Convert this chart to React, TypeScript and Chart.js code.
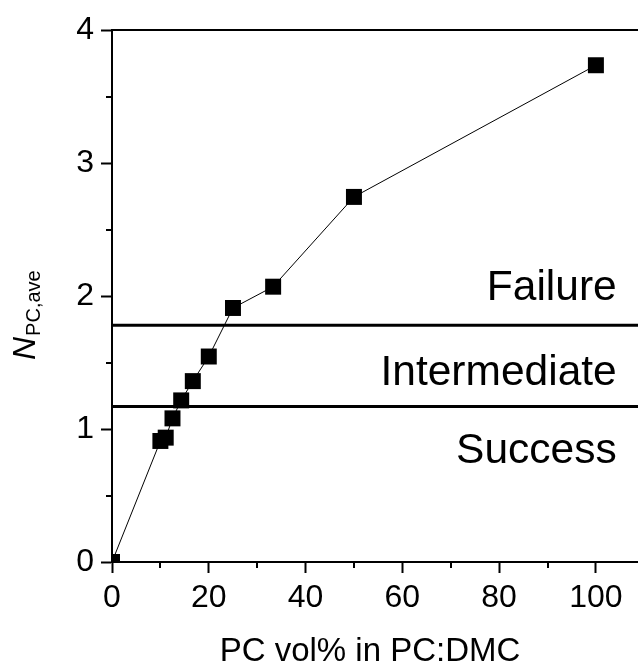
import React, { useEffect, useRef } from "react";
import { Chart, registerables } from "chart.js";

Chart.register(...registerables);

// ---- data ----
const pcVolPercent = [0, 10, 11.1, 12.5, 14.3, 16.7, 20, 25, 33.3, 50, 100];
const nPcAve = [0, 0.91, 0.935, 1.08, 1.215, 1.36, 1.545, 1.91, 2.07, 2.745, 3.735];

const thresholdValues = [1.17, 1.78];
const xMin = 0;
const xMax = 108.7;
const yMin = 0;
const yMax = 4;

const xMajorStep = 20;
const yMajorStep = 1;
const xMinorTicks = [10, 30, 50, 70, 90];
const yMinorTicks = [0.5, 1.5, 2.5, 3.5];

const zoneLabels = ["Failure", "Intermediate", "Success"];
const zoneLabelY = [1.97, 1.33, 0.745];
const zoneLabelX = 104.3;

const xTitle = "PC vol% in PC:DMC";
const yTitleMain = "N";
const yTitleSub = "PC,ave";

const FONT = '"Liberation Sans", Arial, Helvetica, sans-serif';

const decorPlugin = {
  id: "decor",
  afterDraw(chart: any) {
    const { ctx, chartArea } = chart;
    const xs = chart.scales.x;
    const ys = chart.scales.y;
    ctx.save();
    ctx.strokeStyle = "#000";
    ctx.fillStyle = "#000";
    ctx.lineWidth = 2;
    // top frame line
    ctx.beginPath();
    ctx.moveTo(chartArea.left - 1, chartArea.top);
    ctx.lineTo(chartArea.right, chartArea.top);
    ctx.stroke();
    // minor ticks
    ctx.beginPath();
    xMinorTicks.forEach((v) => {
      const px = Math.round(xs.getPixelForValue(v));
      ctx.moveTo(px, chartArea.bottom);
      ctx.lineTo(px, chartArea.bottom + 6);
    });
    yMinorTicks.forEach((v) => {
      const py = Math.round(ys.getPixelForValue(v));
      ctx.moveTo(chartArea.left, py);
      ctx.lineTo(chartArea.left - 6, py);
    });
    ctx.stroke();

    // zone labels
    ctx.font = `42.5px ${FONT}`;
    ctx.textAlign = "right";
    ctx.textBaseline = "alphabetic";
    zoneLabels.forEach((t, i) => {
      ctx.fillText(t, xs.getPixelForValue(zoneLabelX), ys.getPixelForValue(zoneLabelY[i]));
    });

    // x title
    ctx.font = `33px ${FONT}`;
    ctx.textAlign = "center";
    ctx.fillText(xTitle, (chartArea.left + chartArea.right) / 2 - 5, chartArea.bottom + 99);

    // y title (rotated)
    ctx.translate(chartArea.left - 77, chartArea.bottom - 202);
    ctx.rotate(-Math.PI / 2);
    ctx.textAlign = "left";
    ctx.font = `italic 32px ${FONT}`;
    ctx.fillText(yTitleMain, 0, 0);
    const w = ctx.measureText(yTitleMain).width;
    ctx.font = `20px ${FONT}`;
    ctx.fillText(yTitleSub, w + 1, 5);
    ctx.restore();
  },
};

export default function App() {
  const ref = useRef<HTMLCanvasElement>(null);

  useEffect(() => {
    if (!ref.current) return;
    const mainData = pcVolPercent.map((x, i) => ({ x, y: nPcAve[i] }));
    const thresholdSets = thresholdValues.map((v) => ({
      type: "line" as const,
      data: [
        { x: xMin, y: v },
        { x: xMax, y: v },
      ],
      borderColor: "#000",
      borderWidth: 3,
      pointRadius: 0,
      fill: false,
      clip: 0,
    }));
    const chart = new Chart(ref.current, {
      type: "line",
      data: {
        datasets: [
          ...thresholdSets,
          {
            data: mainData,
            borderColor: "#000",
            borderWidth: 1,
            backgroundColor: "#000",
            pointStyle: "rect",
            pointRadius: 11.3,
            pointBorderWidth: 0,
            pointBackgroundColor: "#000",
            fill: false,
            tension: 0,
            clip: 0,
          } as any,
        ],
      },
      options: {
        animation: false,
        responsive: false,
        events: [],
        layout: { autoPadding: false, padding: { top: 30, left: 0, right: 0, bottom: 0 } },
        plugins: {
          legend: { display: false },
          tooltip: { enabled: false },
        },
        scales: {
          x: {
            type: "linear",
            min: xMin,
            max: xMax,
            afterFit: (s: any) => {
              s.height = 104;
              s.paddingLeft = 0;
              s.paddingRight = 0;
            },
            border: { display: true, color: "#000", width: 2 },
            grid: {
              drawOnChartArea: false,
              drawTicks: true,
              tickLength: 11,
              tickColor: "#000",
              tickWidth: 2,
            },
            ticks: {
              stepSize: xMajorStep,
              includeBounds: false,
              color: "#000",
              padding: 6,
              maxRotation: 0,
              font: { family: FONT, size: 32 },
            },
          },
          y: {
            type: "linear",
            min: yMin,
            max: yMax,
            afterFit: (s: any) => {
              s.width = 112;
              s.paddingTop = 0;
              s.paddingBottom = 0;
            },
            border: { display: true, color: "#000", width: 2 },
            grid: {
              drawOnChartArea: false,
              drawTicks: true,
              tickLength: 11,
              tickColor: "#000",
              tickWidth: 2,
            },
            ticks: {
              stepSize: yMajorStep,
              color: "#000",
              padding: 7,
              font: { family: FONT, size: 32 },
            },
          },
        },
      } as any,
      plugins: [decorPlugin],
    });
    return () => chart.destroy();
  }, []);

  return (
    <div
      style={{
        position: "fixed",
        left: 0,
        top: 0,
        width: 638,
        height: 666,
        overflow: "hidden",
        background: "#fff",
      }}
    >
      <canvas ref={ref} width={638} height={666} style={{ display: "block" }} />
    </div>
  );
}
